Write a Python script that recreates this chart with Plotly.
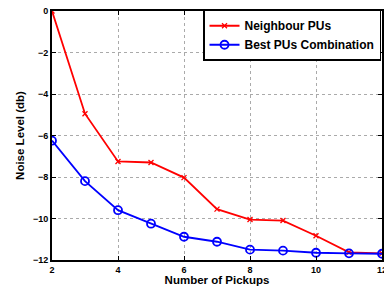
import plotly.graph_objects as go

pickups = [2, 3, 4, 5, 6, 7, 8, 9, 10, 11, 12]
neighbour = [0, -4.95, -7.25, -7.3, -8.03, -9.55, -10.05, -10.1, -10.83, -11.63, -11.68]
best = [-6.25, -8.2, -9.6, -10.25, -10.88, -11.12, -11.5, -11.55, -11.65, -11.68, -11.7]
x_ticks = [2, 4, 6, 8, 10, 12]
y_ticks = [0, -2, -4, -6, -8, -10, -12]

FAM = "Liberation Sans, Arial, sans-serif"
font = dict(family=FAM, size=9, color="black")

fig = go.Figure()
fig.add_trace(go.Scatter(x=pickups, y=neighbour, mode="lines+markers", name="<b>Neighbour PUs</b>",
                         line=dict(color="red", width=1.8),
                         marker=dict(symbol="x-thin", size=5, line=dict(color="red", width=1.3))))
fig.add_trace(go.Scatter(x=pickups, y=best, mode="lines+markers", name="<b>Best PUs Combination</b>",
                         line=dict(color="blue", width=1.8),
                         marker=dict(symbol="circle-open", size=8, color="blue", line=dict(width=1.8))))

axis_common = dict(showline=True, linecolor="black", linewidth=2, mirror="ticks",
                   ticks="inside", ticklen=4, tickcolor="black", tickwidth=1,
                   showgrid=True, gridcolor="#aaaaaa", griddash="dot", gridwidth=1,
                   zeroline=False, automargin=False, ticklabeloverflow="allow",
                   tickfont=dict(family=FAM, size=9, color="black"))

fig.update_xaxes(range=[2, 12], tickvals=x_ticks, ticktext=[f"<b>{v}</b>" for v in x_ticks],
                 title=dict(text="<b>Number of Pickups</b>", font=dict(size=11.5, family=FAM), standoff=0),
                 **axis_common)
fig.update_yaxes(range=[-12, 0], tickvals=y_ticks,
                 ticktext=[f"<b>{'\u2212' + str(-v) if v < 0 else v}</b>" for v in y_ticks],
                 title=dict(text="<b>Noise Level (db)</b>", font=dict(size=11.5, family=FAM), standoff=6),
                 **axis_common)

fig.update_layout(width=384, height=286, margin=dict(l=52, r=2, t=11, b=26, autoexpand=False),
                  paper_bgcolor="white", plot_bgcolor="white", font=font,
                  legend=dict(x=0.997, y=1.005, xanchor="right", yanchor="top",
                              bgcolor="white", bordercolor="black", borderwidth=1.5,
                              font=dict(size=12, family=FAM, color="black"),
                              itemwidth=30, tracegroupgap=0),
                  showlegend=True)

fig.write_html("out.html", config={"displayModeBar": False},
               post_script="document.body.style.margin='0';document.body.style.overflow='hidden';")
